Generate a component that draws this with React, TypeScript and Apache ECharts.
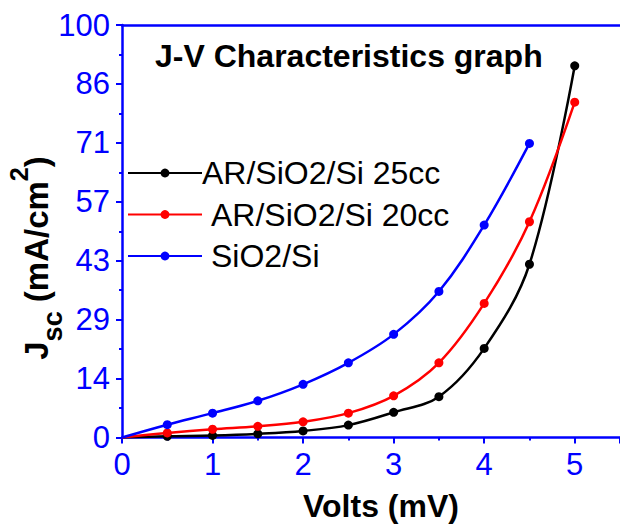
import React, { useEffect, useRef } from "react";
import * as echarts from "echarts";

const volts = [0, 0.5, 1, 1.5, 2, 2.5, 3, 3.5, 4, 4.5, 5];
const ar25cc = [0, 0.3, 0.5, 0.9, 1.6, 3.0, 6.1, 9.9, 21.6, 42.0, 90.1];
const ar20cc = [0, 1.1, 2.0, 2.7, 3.8, 5.9, 10.1, 18.1, 32.5, 52.3, 81.3];
const sio2si = [0, 3.1, 5.9, 8.9, 12.9, 18.1, 25.0, 35.4, 51.5, 71.3];
const seriesNames = ["AR/SiO2/Si 25cc", "AR/SiO2/Si 20cc", "SiO2/Si"];
const seriesColors = ["#000000", "#ff0000", "#0000ff"];
const yTickLabels = ["0", "14", "29", "43", "57", "71", "86", "100"];

const FONT = 'Arial, "Liberation Sans", sans-serif';
const BLUE = "#0000ff";

function toData(ys: number[]) {
  return ys.map((y, i) =>
    i === 0 ? { value: [volts[i], y], symbol: "none" } : { value: [volts[i], y] }
  );
}

export default function App() {
  const ref = useRef<HTMLDivElement>(null);
  useEffect(() => {
    document.body.style.margin = "0";
    const chart = echarts.init(ref.current!, undefined, { renderer: "svg" });
    const yInterval = 100 / 7;
    const allSeries = [ar25cc, ar20cc, sio2si];
    chart.setOption({
      animation: false,
      backgroundColor: "#ffffff",
      grid: { left: 122, top: 25, width: 501, height: 412.5 },
      legend: {
        orient: "vertical",
        left: 127,
        top: 155,
        padding: 0,
        itemWidth: 74,
        itemHeight: 11,
        itemGap: 5.5,
        data: seriesNames,
        formatter: (name: string) =>
          name === seriesNames[0] ? `{a|${name}}` : `{b|${name}}`,
        textStyle: {
          fontFamily: FONT,
          fontSize: 32,
          color: "#000",
          lineHeight: 36,
          rich: {
            a: { fontFamily: FONT, fontSize: 32, color: "#000", lineHeight: 36, padding: [0, 0, 0, -5] },
            b: { fontFamily: FONT, fontSize: 32, color: "#000", lineHeight: 36, padding: [0, 0, 0, 4] },
          },
        },
      },
      xAxis: [
        {
          type: "value",
          min: 0,
          max: 5.5,
          interval: 1,
          axisLine: { show: true, onZero: false, lineStyle: { color: BLUE, width: 2.5 } },
          axisTick: { show: true, length: 6, lineStyle: { color: BLUE, width: 2 } },
          minorTick: { show: true, splitNumber: 2, length: 3, lineStyle: { color: BLUE, width: 2 } },
          splitLine: { show: false },
          axisLabel: {
            showMaxLabel: false,
            margin: 11,
            color: BLUE,
            fontFamily: FONT,
            fontSize: 31,
          },
        },
        {
          type: "value",
          position: "top",
          min: 0,
          max: 5.5,
          axisLine: { show: true, onZero: false, lineStyle: { color: BLUE, width: 2.5 } },
          axisTick: { show: false },
          axisLabel: { show: false },
          splitLine: { show: false },
        },
      ],
      yAxis: {
        type: "value",
        min: 0,
        max: 100,
        interval: yInterval,
        axisLine: { show: true, onZero: false, lineStyle: { color: BLUE, width: 2.5 } },
        axisTick: { show: true, length: 6, lineStyle: { color: BLUE, width: 2 } },
        minorTick: { show: true, splitNumber: 2, length: 3, lineStyle: { color: BLUE, width: 2 } },
        splitLine: { show: false },
        axisLabel: {
          margin: 12,
          color: BLUE,
          fontFamily: FONT,
          fontSize: 31,
          formatter: (v: number) => yTickLabels[Math.round(v / yInterval)] ?? "",
        },
      },
      series: allSeries.map((ys, i) => ({
        name: seriesNames[i],
        type: "line",
        smooth: 0.35,
        data: toData(ys),
        symbol: "circle",
        symbolSize: 9,
        showSymbol: true,
        itemStyle: { color: seriesColors[i] },
        lineStyle: { color: seriesColors[i], width: 2.5 },
        z: 2 + i,
      })),
      graphic: [
        {
          type: "text",
          left: 155,
          top: 40,
          style: {
            text: "J-V Characteristics graph",
            fontFamily: FONT,
            fontWeight: "bold",
            fontSize: 32,
            fill: "#000",
          },
        },
        {
          type: "text",
          x: 381,
          y: 506,
          style: {
            text: "Volts (mV)",
            fontFamily: FONT,
            fontWeight: "bold",
            fontSize: 32,
            fill: "#000",
            align: "center",
            verticalAlign: "middle",
          },
        },
        {
          type: "text",
          x: 36,
          y: 258,
          rotation: Math.PI / 2,
          style: {
            text: "{m|J}{s|sc}{m| (mA/cm}{p|2}{m|)}",
            fill: "#000",
            align: "center",
            verticalAlign: "middle",
            rich: {
              m: { fontFamily: FONT, fontWeight: "bold", fontSize: 33, lineHeight: 60, verticalAlign: "middle", fill: "#000" },
              s: { fontFamily: FONT, fontWeight: "bold", fontSize: 27, lineHeight: 46, verticalAlign: "bottom", fill: "#000" },
              p: { fontFamily: FONT, fontWeight: "bold", fontSize: 25, lineHeight: 20, verticalAlign: "top", fill: "#000" },
            },
          },
        },
      ],
    });
    return () => chart.dispose();
  }, []);
  return (
    <div
      ref={ref}
      style={{ position: "absolute", left: 0, top: 0, width: 620, height: 527 }}
    />
  );
}
